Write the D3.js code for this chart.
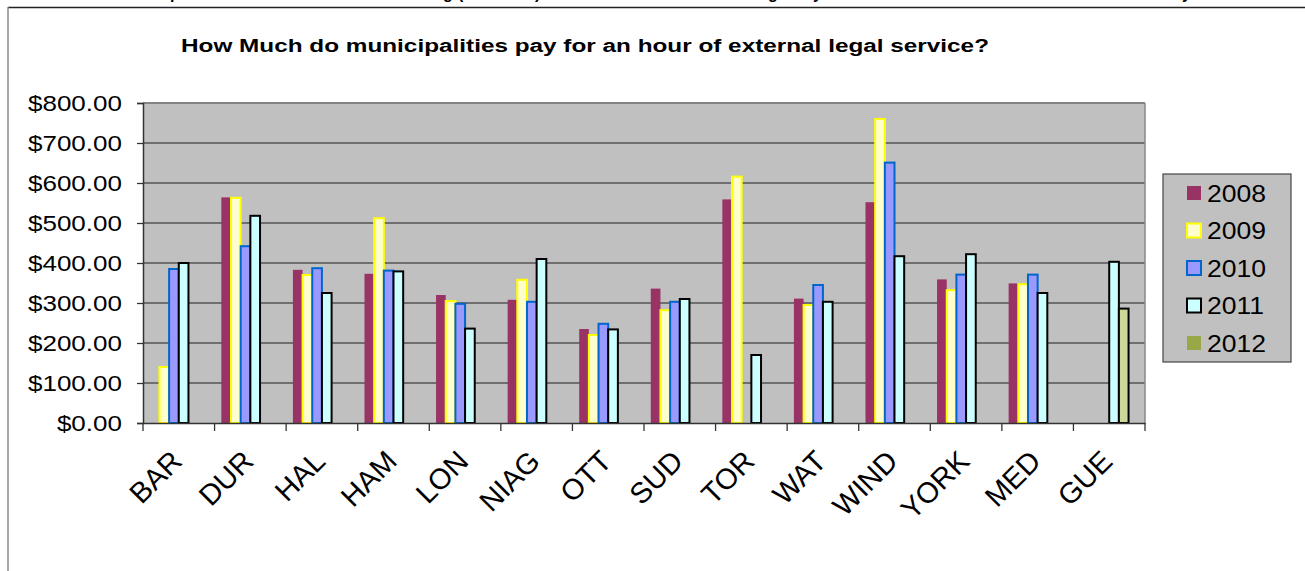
<!DOCTYPE html>
<html>
<head>
<meta charset="utf-8">
<script src="https://cdn.jsdelivr.net/npm/d3@7"></script>
<style>
  body { margin: 0; background: #fff; }
  svg { display: block; font-family: "Liberation Sans", Arial, sans-serif; }
</style>
</head>
<body>
<div id="chart"></div>
<script>
const categories = ["BAR", "DUR", "HAL", "HAM", "LON", "NIAG", "OTT", "SUD", "TOR", "WAT", "WIND", "YORK", "MED", "GUE"];
const years = ["2008", "2009", "2010", "2011", "2012"];
const rate2008 = [null, 564, 383, 373, 320, 308, 235, 336, 559, 311, 552, 359, 349, null];
const rate2009 = [140, 563, 370, 512, 305, 358, 220, 282, 616, 295, 760, 332, 347, null];
const rate2010 = [385, 442, 387, 381, 298, 303, 248, 303, null, 345, 651, 371, 371, null];
const rate2011 = [400, 518, 325, 379, 236, 410, 234, 310, 170, 303, 417, 422, 325, 403];
const rate2012 = [null, null, null, null, null, null, null, null, null, null, null, null, null, 286];
const yTicks = [0, 100, 200, 300, 400, 500, 600, 700, 800];
const title = "How Much do municipalities pay for an hour of external legal service?";

const rates = [rate2008, rate2009, rate2010, rate2011, rate2012];

// per-series look (Excel 2003 palette)
const seriesFill = ["#993366", "#FFFFCC", "#9999FF", "#CCFFFF", "#CCD898"];
const seriesStroke = [null, "#FFFF00", "#0066CC", "#000000", "#000000"];
const legendFill = ["#993366", "#FFFFCC", "#9999FF", "#CCFFFF", "#99A846"];
const legendStroke = [null, "#FFFF00", "#0066CC", "#000000", null];

const W = 1305, H = 571;
const SX = 1.13; // horizontal text stretch seen in the picture
const plot = {left: 143, right: 1145, top: 103, bottom: 423};

const svg = d3.select("#chart").append("svg")
    .attr("width", W)
    .attr("height", H);

// frame of the chart object (clipped at the top of the page)
svg.append("line").attr("x1", 8).attr("x2", W).attr("y1", 7.5).attr("y2", 7.5)
    .attr("stroke", "#222").attr("stroke-width", 1.5);
svg.append("line").attr("x1", 8).attr("x2", 8).attr("y1", 7).attr("y2", H)
    .attr("stroke", "#888").attr("stroke-width", 1.5);

// bits of a line of text above, only descenders are visible
const clipped = [["p", 170], ["g", 443], ["(", 458], [")", 535], ["g", 768], ["y", 813], ["y", 1182]];
svg.selectAll(".clipped").data(clipped).enter().append("text")
    .attr("class", "clipped")
    .attr("x", d => d[1]).attr("y", -1)
    .style("font-size", "16px").style("font-weight", "bold")
    .text(d => d[0]);

svg.append("text")
    .attr("x", 181).attr("y", 52)
    .attr("textLength", 808).attr("lengthAdjust", "spacingAndGlyphs")
    .style("font-size", "18px").style("font-weight", "bold")
    .text(title);

const x0 = d3.scaleBand().domain(categories).range([plot.left, plot.right]);
const bw = x0.bandwidth() / 7.4;
const x1 = d3.scaleBand().domain(years).range([0.7 * bw, 5.7 * bw]);
const y = d3.scaleLinear().domain([0, 800]).range([plot.bottom, plot.top]);

svg.append("rect")
    .attr("x", plot.left).attr("y", plot.top)
    .attr("width", plot.right - plot.left).attr("height", plot.bottom - plot.top)
    .attr("fill", "#C0C0C0");

// gridlines
svg.append("g").selectAll("line").data(yTicks.slice(1)).enter().append("line")
    .attr("x1", plot.left).attr("x2", plot.right)
    .attr("y1", d => y(d)).attr("y2", d => y(d))
    .attr("stroke", "#555").attr("stroke-width", 1.4);

svg.append("line").attr("x1", plot.right).attr("x2", plot.right)
    .attr("y1", plot.top).attr("y2", plot.bottom)
    .attr("stroke", "#888").attr("stroke-width", 1.5);
svg.append("line").attr("x1", plot.left).attr("x2", plot.right)
    .attr("y1", plot.top).attr("y2", plot.top)
    .attr("stroke", "#888").attr("stroke-width", 1.5);

// bars, series after series
years.forEach((yr, si) => {
    const pts = categories.map((c, i) => ({cat: c, v: rates[si][i]})).filter(d => d.v != null);
    svg.append("g").selectAll("rect").data(pts).enter().append("rect")
        .attr("x", d => x0(d.cat) + x1(yr))
        .attr("y", d => y(d.v))
        .attr("width", x1.bandwidth())
        .attr("height", d => y(0) - y(d.v))
        .attr("fill", seriesFill[si])
        .attr("stroke", seriesStroke[si] || "none")
        .attr("stroke-width", 2);
});

// y axis
const yAxis = svg.append("g")
    .attr("transform", `translate(${plot.left},0)`)
    .call(d3.axisLeft(y).tickValues(yTicks).tickSize(6).tickPadding(0).tickFormat(d => ""));
yAxis.select(".domain").attr("stroke", "#333").attr("stroke-width", 1.5);
yAxis.selectAll(".tick line").attr("stroke", "#333").attr("stroke-width", 1.3);

svg.append("g").selectAll("text").data(yTicks).enter().append("text")
    .attr("transform", d => `translate(122,${y(d) + 7.5}) scale(1.21,1)`)
    .attr("text-anchor", "end")
    .style("font-size", "21.5px")
    .text(d => "$" + d3.format(".2f")(d));

// x axis
const xAxis = svg.append("g")
    .attr("transform", `translate(0,${plot.bottom})`)
    .call(d3.axisBottom(x0).tickSize(0).tickFormat(""));
xAxis.select(".domain").attr("stroke", "#333").attr("stroke-width", 1.5);
svg.append("g").selectAll("line").data(categories.concat(["end"])).enter().append("line")
    .attr("x1", d => d === "end" ? plot.right : x0(d))
    .attr("x2", d => d === "end" ? plot.right : x0(d))
    .attr("y1", plot.bottom).attr("y2", plot.bottom + 8)
    .attr("stroke", "#333").attr("stroke-width", 1.3);

svg.append("g").selectAll("text").data(categories).enter().append("text")
    .attr("transform", d => `translate(${x0(d) + x0.bandwidth() / 2 + 5},${plot.bottom + 40}) rotate(-45)`)
    .attr("text-anchor", "end")
    .style("font-size", "29px")
    .text(d => d);

// legend
const lg = svg.append("g").attr("transform", "translate(1163,174)");
lg.append("rect").attr("width", 128).attr("height", 188)
    .attr("fill", "#C0C0C0").attr("stroke", "#444").attr("stroke-width", 1.2);
const items = lg.selectAll(".item").data(years).enter().append("g")
    .attr("transform", (d, i) => `translate(0,${19 + i * 37.5})`);
items.append("rect")
    .attr("x", 24).attr("y", -7).attr("width", 14).attr("height", 14)
    .attr("fill", (d, i) => legendFill[i])
    .attr("stroke", (d, i) => legendStroke[i] || "none")
    .attr("stroke-width", 2);
items.append("text")
    .attr("transform", `translate(44,8.5) scale(${SX},1)`)
    .style("font-size", "23.5px")
    .text(d => d);
</script>
</body>
</html>
